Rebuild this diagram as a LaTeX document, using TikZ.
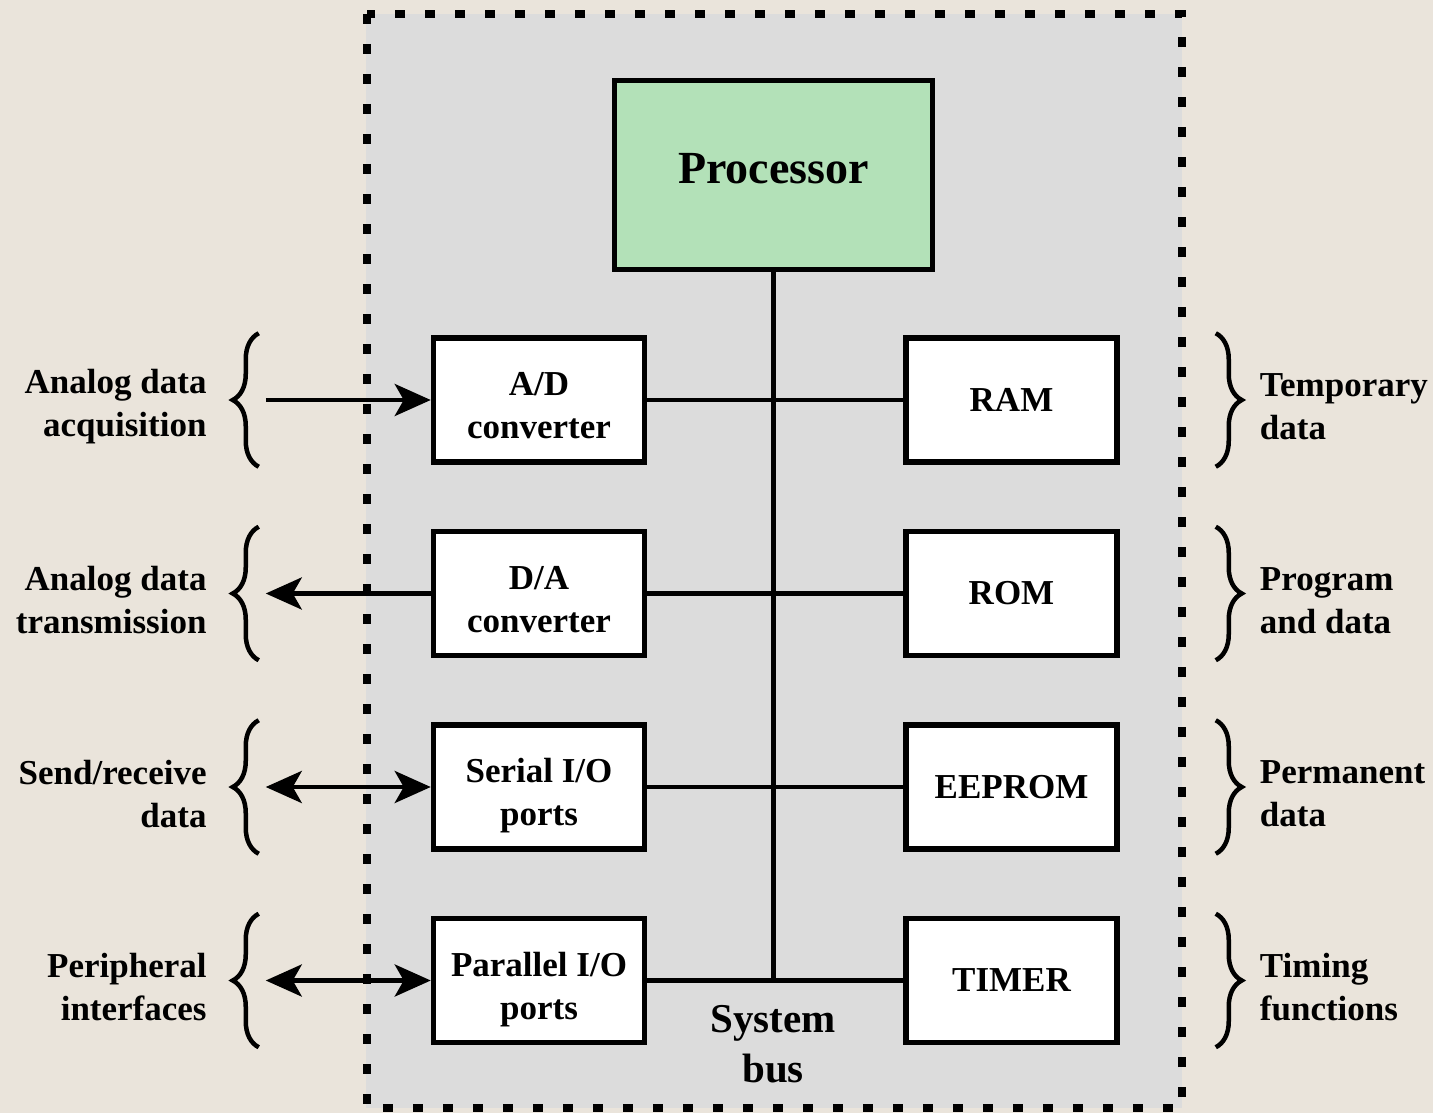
\documentclass[tikz,border=0pt]{standalone}
\usepackage{fontspec}
\setmainfont{Liberation Serif}
\usetikzlibrary{positioning, arrows.meta, decorations.pathreplacing}
\definecolor{paper}{RGB}{234,228,219}
\definecolor{chipgray}{RGB}{220,220,220}
\definecolor{cpugreen}{RGB}{179,225,184}

\begin{document}
\begin{tikzpicture}[x=1pt, y=1pt, node distance=64pt and 256pt,
  >={Stealth[length=36pt, width=32pt, inset=9pt]},
  box/.style={draw, line width=5.5pt, fill=white, minimum width=211pt, minimum height=124pt,
    inner sep=0pt, align=center, font=\bfseries\fontsize{35pt}{43pt}\selectfont},
  twoline/.style={text height=77pt, text depth=0pt},
  lbl/.style={inner sep=0pt, yshift=-7pt, font=\bfseries\fontsize{35pt}{43pt}\selectfont},
  conn/.style={line width=4.5pt},
  brc/.style={line width=4.5pt, decorate, decoration={brace, amplitude=26pt}}]
% page and chip %
\fill[paper] (0,0) rectangle (1433,-1113);
\useasboundingbox (0,0) rectangle (1433,-1113);
\fill[chipgray] (366,-14) rectangle (1182,-1108);
\draw[line width=8pt, dash pattern=on 10pt off 20pt] (367,-14) rectangle (1182,-1108);
% nodes %
\node[box, fill=cpugreen, minimum width=318pt, minimum height=189pt, text depth=14pt,
  font=\bfseries\fontsize{46pt}{55pt}\selectfont] (proc) at (773.5,-175) {Processor};
\node[box, twoline] (ad) at (539,-400) {A/D\\converter};
\node[box, twoline, below=of ad] (da) {D/A\\converter};
\node[box, twoline, below=of da] (sio) {Serial I/O\\ports};
\node[box, twoline, below=of sio] (pio) {Parallel I/O\\ports};
\node[box, right=of ad] (ram) {RAM};
\node[box, right=of da] (rom) {ROM};
\node[box, right=of sio] (eeprom) {EEPROM};
\node[box, right=of pio] (timer) {TIMER};
\coordinate (busend) at (proc.south |- pio.east);
\node[inner sep=0pt, align=center, font=\bfseries\fontsize{41pt}{50pt}\selectfont] (sysbus) at (773,-1044) {System\\bus};
% outside labels %
\node[lbl, align=right, left=224pt of ad] (adlbl) {Analog data\\acquisition};
\node[lbl, align=right, left=224pt of da] (dalbl) {Analog data\\transmission};
\node[lbl, align=right, left=224pt of sio] (siolbl) {Send/receive\\data};
\node[lbl, align=right, left=224pt of pio] (piolbl) {Peripheral\\interfaces};
\node[lbl, align=left, right=140pt of ram] (ramlbl) {Temporary\\data};
\node[lbl, align=left, right=140pt of rom] (romlbl) {Program\\and data};
\node[lbl, align=left, right=140pt of eeprom] (eeplbl) {Permanent\\data};
\node[lbl, align=left, right=140pt of timer] (timlbl) {Timing\\functions};
\coordinate (adin) at ([xshift=-165pt]ad.west);
\coordinate (daout) at ([xshift=-165pt]da.west);
\coordinate (sioext) at ([xshift=-165pt]sio.west);
\coordinate (pioext) at ([xshift=-165pt]pio.west);
% edges %
\draw[conn] (proc.south) -- (busend);
\draw[conn] (ad.east) -- (ram.west);
\draw[conn] (da.east) -- (rom.west);
\draw[conn] (sio.east) -- (eeprom.west);
\draw[conn] (pio.east) -- (timer.west);
\draw[conn, ->] (adin) -- (ad.west);
\draw[conn, ->] (da.west) -- (daout);
\draw[conn, <->] (sioext) -- (sio.west);
\draw[conn, <->] (pioext) -- (pio.west);
% braces %
\foreach \n in {ad, da, sio, pio}
  \draw[brc] ([xshift=-172pt, yshift=-2pt]\n.south west) -- ([xshift=-172pt, yshift=2pt]\n.north west);
\foreach \n in {ram, rom, eeprom, timer}
  \draw[brc] ([xshift=96pt, yshift=2pt]\n.north east) -- ([xshift=96pt, yshift=-2pt]\n.south east);
\end{tikzpicture}
\end{document}
